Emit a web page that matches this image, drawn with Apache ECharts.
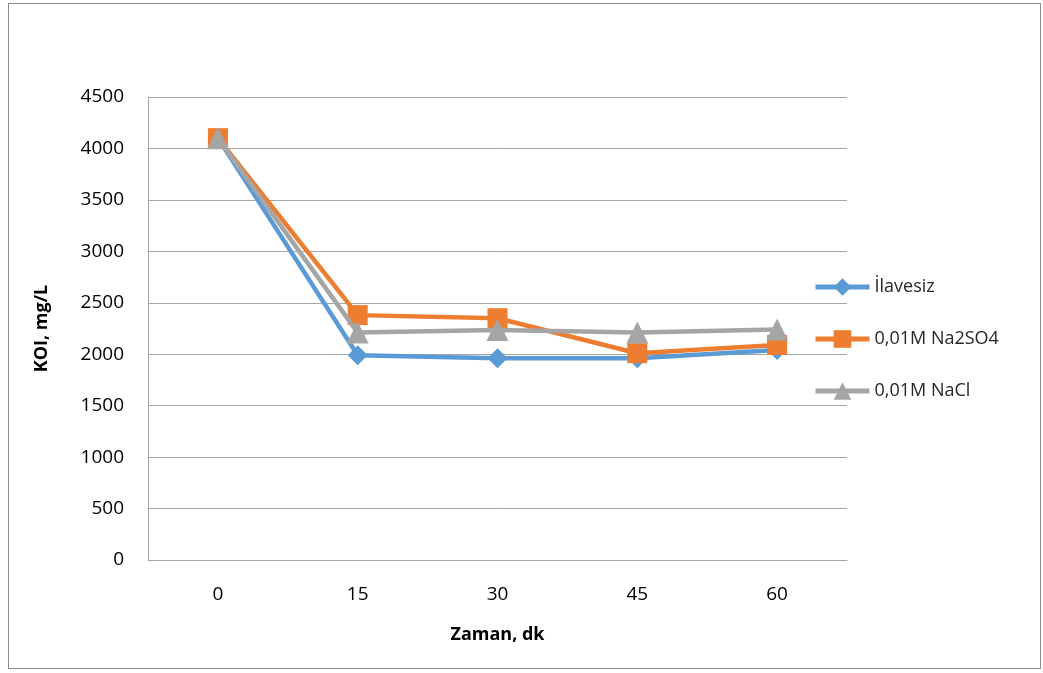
<!DOCTYPE html>
<html><head><meta charset="utf-8">
<script src="https://cdn.jsdelivr.net/npm/echarts@6/dist/echarts.min.js"></script>
<style>html,body{margin:0;padding:0;background:#fff}#c{width:1043px;height:673px}
#frame{position:absolute;left:8px;top:3px;width:1031px;height:664px;border:1px solid #8c8c8c;pointer-events:none}</style>
</head><body><div id="c"></div><div id="frame"></div>
<script>
const categories = ['0','15','30','45','60'];
const seriesNames = ['İlavesiz','0,01M Na2SO4','0,01M NaCl'];
const ilavesiz = [4100, 1990, 1960, 1960, 2040];
const na2so4 = [4100, 2380, 2350, 2010, 2090];
const nacl = [4100, 2210, 2235, 2210, 2240];
const colors = ['#5B9BD5','#ED7D31','#A5A5A5'];
const symbols = ['diamond','rect','triangle'];
const sizes = [20,20,22];
const font = 'Open Sans, Liberation Sans, sans-serif';
const chart = echarts.init(document.getElementById('c'));
chart.setOption({
  animation:false,
  grid:{left:148,right:196,top:97,bottom:113,containLabel:false},
  legend:{orient:'vertical',left:808,top:273,itemWidth:54,itemHeight:22,itemGap:34,
    lineStyle:{width:5},
    textStyle:{fontFamily:font,fontSize:18,color:'#262626'},
    data:seriesNames},
  xAxis:{type:'category',data:categories,boundaryGap:true,
    name:'Zaman, dk',nameLocation:'middle',nameGap:66,
    nameTextStyle:{fontFamily:font,fontSize:18,fontWeight:'bold',color:'#000'},
    axisLine:{lineStyle:{color:'#a6a6a6',width:1}},axisTick:{show:false},
    axisLabel:{fontFamily:font,fontSize:19,color:'#000',margin:25}},
  yAxis:{type:'value',min:0,max:4500,interval:500,
    name:'KOI, mg/L',nameLocation:'middle',nameGap:97,
    nameTextStyle:{fontFamily:font,fontSize:18,fontWeight:'bold',color:'#000'},
    axisLine:{show:true,lineStyle:{color:'#a6a6a6'}},axisTick:{show:false},
    splitLine:{lineStyle:{color:'#a6a6a6',width:1}},
    axisLabel:{fontFamily:font,fontSize:19,color:'#000',margin:24,formatter:v=>String(v)}},
  series:[ilavesiz,na2so4,nacl].map((d,i)=>({
    name:seriesNames[i],type:'line',data:d,symbol:symbols[i],symbolSize:sizes[i],
    lineStyle:{width:4.5,color:colors[i]},itemStyle:{color:colors[i]},z:2+i
  }))
});
</script></body></html>
